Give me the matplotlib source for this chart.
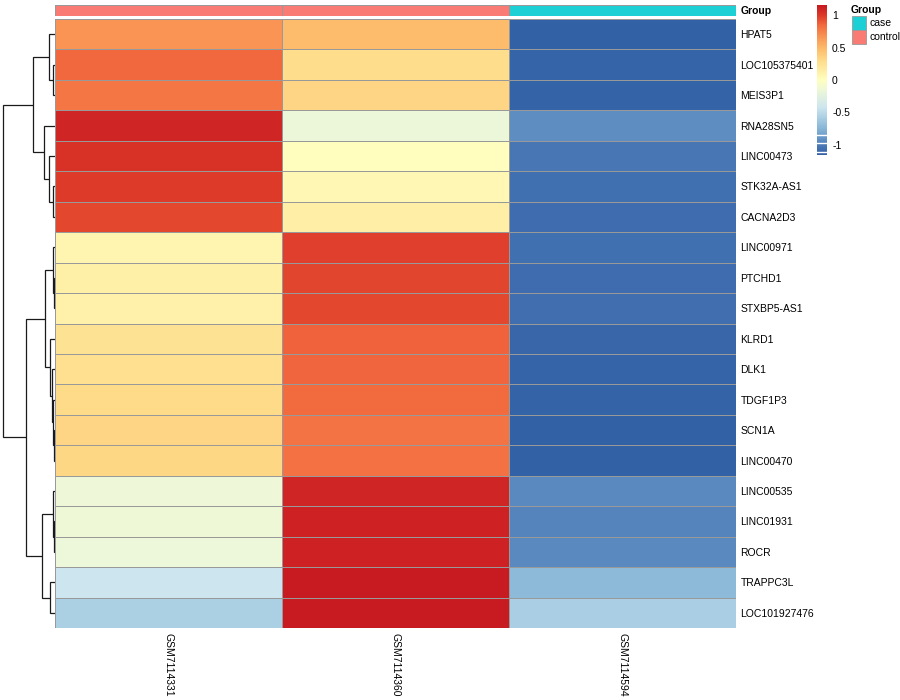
import numpy as np
import matplotlib
matplotlib.use('Agg')
import matplotlib.pyplot as plt
from matplotlib.colors import LinearSegmentedColormap, ListedColormap, Normalize
from matplotlib.patches import Rectangle

plt.rcParams['font.family'] = ['Liberation Sans', 'DejaVu Sans']

# data (row-scaled expression)
genes = ['HPAT5', 'LOC105375401', 'MEIS3P1', 'RNA28SN5', 'LINC00473', 'STK32A-AS1',
         'CACNA2D3', 'LINC00971', 'PTCHD1', 'STXBP5-AS1', 'KLRD1', 'DLK1', 'TDGF1P3',
         'SCN1A', 'LINC00470', 'LINC00535', 'LINC01931', 'ROCR', 'TRAPPC3L', 'LOC101927476']
samples = ['GSM7114331', 'GSM7114360', 'GSM7114594']
group = ['control', 'control', 'case']

gsm7114331 = [0.67, 0.85, 0.80, 1.10, 1.03, 1.00, 0.95, 0.09, 0.13, 0.12,
              0.25, 0.27, 0.30, 0.34, 0.33, -0.15, -0.14, -0.16, -0.43, -0.577]
gsm7114360 = [0.48, 0.28, 0.34, -0.17, 0.00, 0.07, 0.14, 0.98, 0.96, 0.95,
              0.87, 0.86, 0.84, 0.81, 0.82, 1.10, 1.11, 1.11, 1.15, 1.155]
gsm7114594 = [-1.15, -1.13, -1.14, -0.93, -1.03, -1.07, -1.09, -1.07, -1.09, -1.08,
              -1.12, -1.13, -1.14, -1.15, -1.15, -0.95, -0.97, -0.95, -0.72, -0.578]

# row dendrogram: (left, right, height), leaves are row indices
row_tree = (((0, (1, 2, 0.23), 1.06), (3, (4, (5, 6, 0.23), 1.0), 1.97), 4.1),
            (((7, (8, 9, 0.08), 0.23),
              (10, (11, (12, (13, 14, 0.08), 0.23), 0.42), 0.87), 1.83),
             ((15, (16, 17, 0.08), 0.23), (18, 19, 0.87), 2.36), 5.5),
            10.0)

vmin, vmax = -1.155, 1.155
cmap_vals = [-1.155, -1.0, -0.9, -0.75, -0.58, -0.43, -0.15, 0.0, 0.3, 0.5, 0.67, 0.85, 1.0, 1.155]
cmap_cols = ['#3361A6', '#4E7DB9', '#6797C7', '#88B6D7', '#ABCFE3', '#CDE5EF', '#EEF8D8',
             '#FFFFBF', '#FEDC8A', '#FDB96A', '#F99555', '#F26A3F', '#DD3A29', '#C81A21']
group_colors = {'case': '#1DD0D6', 'control': '#FA7B73'}

cmap = LinearSegmentedColormap.from_list(
    'hm', [((v - vmin) / (vmax - vmin), c) for v, c in zip(cmap_vals, cmap_cols)])
norm = Normalize(vmin, vmax)

W, H = 900, 700
fig = plt.figure(figsize=(9, 7), dpi=100)


def px_axes(x0, y0, x1, y1):
    return fig.add_axes([x0 / W, 1 - y1 / H, (x1 - x0) / W, (y1 - y0) / H])


mat = np.array([gsm7114331, gsm7114360, gsm7114594]).T
nrow, ncol = mat.shape
border = '#999999'

# heatmap
ax = px_axes(54.5, 19, 735.5, 628)
ax.pcolormesh(np.arange(ncol + 1), np.arange(nrow + 1), mat, cmap=cmap, norm=norm,
              edgecolors=border, linewidth=0.6)
ax.set_xlim(0, ncol)
ax.set_ylim(nrow, 0)
for s in ax.spines.values():
    s.set_visible(False)
ax.yaxis.tick_right()
ax.set_yticks(np.arange(nrow) + 0.5)
ax.set_yticklabels(genes, fontsize=7.5)
ax.set_xticks(np.arange(ncol) + 0.5)
ax.set_xticklabels(samples, rotation=270, fontsize=7.5, va='top', ha='center')
ax.tick_params(length=0, pad=3.5)

# annotation bar
lev = ['case', 'control']
ann = px_axes(54.5, 5, 735.5, 15.5)
ann.pcolormesh(np.arange(ncol + 1), [0, 1], np.array([[lev.index(g) for g in group]]),
               cmap=ListedColormap([group_colors[l] for l in lev]), vmin=-0.5, vmax=1.5,
               edgecolors=border, linewidth=0.6)
ann.set_xlim(0, ncol)
ann.set_ylim(1, 0)
for s in ann.spines.values():
    s.set_visible(False)
ann.set_xticks([])
ann.yaxis.tick_right()
ann.set_yticks([0.5])
ann.set_yticklabels(['Group'], fontsize=7.5, fontweight='bold')
ann.tick_params(length=0, pad=3.5)

# row dendrogram
dax = px_axes(0, 19, 54.5, 628)
root_h = row_tree[2]


def draw(node):
    if not isinstance(node, tuple):
        return node + 0.5, 0.0
    ya, ha = draw(node[0])
    yb, hb = draw(node[1])
    h = node[2]
    dax.plot([ha, h, h, hb], [ya, ya, yb, yb], color='#1a1a1a', lw=0.9,
             solid_joinstyle='miter', solid_capstyle='butt')
    return (ya + yb) / 2, h


draw(row_tree)
dax.set_xlim(root_h * 54.5 / 51.8, 0)
dax.set_ylim(nrow, 0)
dax.axis('off')

# colour legend
cax = px_axes(816.5, 5, 826.5, 155)
grad = np.linspace(vmax, vmin, 300).reshape(-1, 1)
cax.imshow(grad, cmap=cmap, norm=norm, aspect='auto', extent=[0, 1, vmin, vmax])
for v in [-0.846, -0.977, -1.115]:
    cax.axhline(v, color='white', lw=1.0)
cax.set_ylim(vmin, vmax)
cax.set_xticks([])
for s in cax.spines.values():
    s.set_visible(False)
cax.yaxis.tick_right()
cax.set_yticks([1, 0.5, 0, -0.5, -1])
cax.set_yticklabels(['1', '0.5', '0', '-0.5', '-1'], fontsize=7.5)
cax.tick_params(length=0, pad=4)

# group legend
lax = px_axes(0, 0, W, H)
lax.set_xlim(0, W)
lax.set_ylim(H, 0)
lax.axis('off')
lax.text(851, 10, 'Group', fontsize=7.5, fontweight='bold', va='center', ha='left')
for i, l in enumerate(lev):
    y0 = 15.5 + i * 14
    lax.add_patch(Rectangle((851.5, y0), 14.5, 14, facecolor=group_colors[l],
                            edgecolor=border, lw=0.6))
    lax.text(869, y0 + 7, l, fontsize=7.5, va='center', ha='left')

fig.savefig('out.png', dpi=100, facecolor='white')
